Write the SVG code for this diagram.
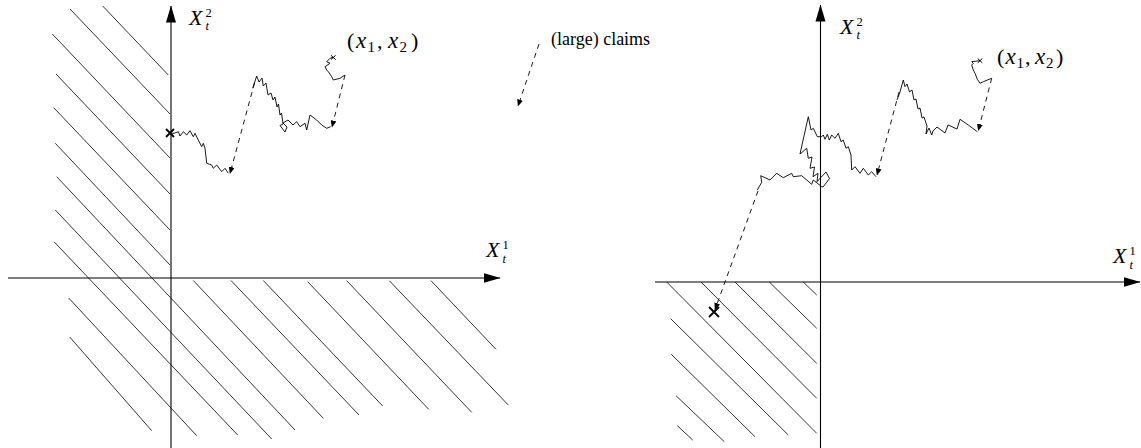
<svg xmlns="http://www.w3.org/2000/svg" width="1141" height="448" viewBox="0 0 1141 448">
<defs>
<marker id="ax" markerUnits="userSpaceOnUse" markerWidth="17" markerHeight="11" viewBox="0 0 17 11" refX="16.5" refY="5.5" orient="auto">
<path d="M0,0.5 L17,5.5 L0,10.5 Z" fill="#000"/>
</marker>
<marker id="cl" markerUnits="userSpaceOnUse" markerWidth="7" markerHeight="6" viewBox="0 0 7 6" refX="6.5" refY="3" orient="auto">
<path d="M0,0 L7,3 L0,6 Z" fill="#000"/>
</marker>
</defs>
<style>
.axis{stroke:#000;stroke-width:1.1;fill:none}
.hatch line{stroke:#000;stroke-width:0.8}
.walk{stroke:#000;stroke-width:0.9;fill:none;stroke-linejoin:miter}
.claim{stroke:#000;stroke-width:0.9;fill:none;stroke-dasharray:5 4.5}
.ruin{stroke:#000;stroke-width:1.8}
.start{stroke:#000;stroke-width:1}
.m{font-family:"Liberation Serif","DejaVu Serif",serif;fill:#000}
.it{font-style:italic}
.big{font-size:22px;font-style:italic}
.xv{font-size:23px;font-style:italic}
.sc{font-size:12.5px}
.pt{font-size:22px}
.sb{font-size:15px}
</style>
<rect width="1141" height="448" fill="#fff"/>

<g id="left-hatch" class="hatch">
<line x1="102.7" y1="6" x2="168.3" y2="75"/>
<line x1="70" y1="9" x2="170" y2="114"/>
<line x1="52.3" y1="34" x2="170" y2="158"/>
<line x1="56" y1="74" x2="170" y2="194"/>
<line x1="53.7" y1="107.7" x2="170" y2="230"/>
<line x1="55.3" y1="143.3" x2="170" y2="265"/>
<line x1="56.7" y1="176.7" x2="295" y2="430"/>
<line x1="55.3" y1="210" x2="271.7" y2="439"/>
<line x1="54.3" y1="242" x2="237.7" y2="435"/>
<line x1="68.7" y1="298" x2="196.7" y2="435.7"/>
<line x1="69.7" y1="337" x2="151.7" y2="430.7"/>
<line x1="193.3" y1="280.5" x2="323.3" y2="418.3"/>
<line x1="231" y1="280.5" x2="359" y2="415"/>
<line x1="263.3" y1="280.5" x2="382.7" y2="406"/>
<line x1="307.7" y1="281.7" x2="428.7" y2="409.3"/>
<line x1="346.7" y1="280.7" x2="471.7" y2="412.3"/>
<line x1="389.3" y1="280.7" x2="508.3" y2="405"/>
<line x1="431" y1="280.7" x2="496" y2="349.3"/>
</g>

<g id="right-hatch" class="hatch">
<line x1="666.7" y1="282" x2="816.7" y2="433.3"/>
<line x1="701" y1="282" x2="816.7" y2="398.3"/>
<line x1="735" y1="282" x2="816.7" y2="363.3"/>
<line x1="769.3" y1="282" x2="816.7" y2="328.3"/>
<line x1="803.3" y1="282" x2="816.7" y2="295"/>
<line x1="670.7" y1="318.7" x2="788.3" y2="435"/>
<line x1="671.3" y1="354.3" x2="755" y2="436.7"/>
<line x1="676" y1="395.7" x2="724.3" y2="441.7"/>
<line x1="677.3" y1="425.7" x2="692.7" y2="440"/>
</g>

<g id="left-axes">
<line class="axis" x1="171" y1="448" x2="171" y2="6" marker-end="url(#ax)"/>
<line class="axis" x1="8" y1="278" x2="500" y2="278" marker-end="url(#ax)"/>
</g>
<g id="right-axes">
<line class="axis" x1="820.5" y1="448" x2="820.5" y2="5" marker-end="url(#ax)"/>
<line class="axis" x1="655" y1="282" x2="1140" y2="282" marker-end="url(#ax)"/>
</g>

<g id="connectors">
<polyline class="walk" points="170,133 174,133.3 178.3,131.7 180,136 183.3,131.7 186.7,135 190,130.7 193.3,136.7 195,133.3 198.3,140 201.7,146.7 203.3,143.3 205,148.3 206.7,163.3 211.7,165 213.3,168.3 216.7,165 221.7,171.7 225,168.3 228.3,173.3"/>
<line class="claim" x1="254.5" y1="83" x2="230" y2="173.5" marker-end="url(#cl)"/>
<polyline class="walk" points="252.7,88.3 256.7,76 259,82 262,78 263.3,86 266,83 268,95 271,93 273,100 275,97 277,107 278.5,104 280,115 281.5,113 283,124 280,125.5 285,132 287,127 283,123 288,120 293,125 296.7,121.7 300,126.7 305,123.3 306.7,130 310,115 316.7,120 321.7,125 326.7,128.3 330.7,126.7"/>
<line class="claim" x1="345" y1="75" x2="332" y2="127" marker-end="url(#cl)"/>
<polyline class="walk" points="345,75 340,78.3 333.3,80 331.7,76.7 328.3,71.7 326.7,70 325,66.7 330,63.3 326.7,61.7 330,58.3 333.3,57.3"/>
<line class="claim" x1="539" y1="44" x2="518" y2="106" marker-end="url(#cl)"/>
<polyline class="walk" points="980,60.7 971.7,61.7 973.3,63.3 971.7,65 973.3,70 975,73.3 977.3,79.3 980,83.3 983.3,81.7 991.7,78.3"/>
<line class="claim" x1="991.7" y1="78.3" x2="978.3" y2="130.5" marker-end="url(#cl)"/>
<polyline class="walk" points="977.3,131.7 968.3,125 960,119.3 957,129 948,125 945,133 937,127 933,131 931.7,135 929,128 926,134 927,126 924,117 922,118 920,108 918,109 916,99 914,100 912,90 909.5,92 907,84 905,86.7 903.3,80 900,92 897,100"/>
<line class="claim" x1="899" y1="92" x2="877" y2="175" marker-end="url(#cl)"/>
<polyline class="walk" points="876,176.7 871.7,171.7 868.3,175 863.3,168.3 860,173.3 855,166.7 851.7,170 851,155 848.3,146.7 846,148.3 843.3,140 841,141.7 838.3,133.3 835,138.3 831.7,135 829.3,140 827.3,134.3 825,139.3 823.3,135 821.7,136.7 817.3,136.7 813.3,128.3 811,130 808.3,116.7 800,154 806.7,148.3 808.3,158.3 812,157 810,168.3 814.5,167 813,176.7 818,173.3 817,181.7 826,172 829.5,178.5 823,187 821.7,186.7 813.3,180 811.7,184.3 801.7,175.7 793.3,176.7 791.7,173.3 783.3,177.7 776.7,173.3 770,180 760.7,175.7 761.7,182.3 757.3,190"/>
<line class="claim" x1="758" y1="191" x2="715" y2="309.5" marker-end="url(#cl)"/>
</g>

<g id="marks">
<path class="ruin" d="M166,129 L174,137 M174,129 L166,137"/>
<path class="ruin" d="M709,307 L719,317 M719,307 L709,317"/>
<path class="start" d="M331,55.3 L335.6,59.6 M335.6,55.3 L331,59.6"/>
<path class="start" d="M977.7,58.5 L982.3,62.9 M982.3,58.5 L977.7,62.9"/>
</g>

<g id="labels">
<text class="m big" x="189" y="24.5">X</text>
<text class="m sc" x="205.5" y="16.5">2</text>
<text class="m sc it" x="205.5" y="30">t</text>

<text class="m big" x="486" y="257">X</text>
<text class="m sc" x="502.5" y="249">1</text>
<text class="m sc it" x="502.5" y="262.5">t</text>

<text class="m big" x="840" y="33.5">X</text>
<text class="m sc" x="856.5" y="25.5">2</text>
<text class="m sc it" x="856.5" y="39">t</text>

<text class="m big" x="1113" y="263">X</text>
<text class="m sc" x="1129.5" y="255">1</text>
<text class="m sc it" x="1129.5" y="268.5">t</text>

<text class="m pt" x="347" y="47.5">(</text>
<text class="m xv" x="356" y="47.5">x</text>
<text class="m sb" x="367.5" y="51.5">1</text>
<text class="m pt" x="377" y="47.5">,</text>
<text class="m xv" x="388" y="47.5">x</text>
<text class="m sb" x="399.5" y="51.5">2</text>
<text class="m pt" x="411" y="47.5">)</text>

<text class="m pt" x="997" y="64">(</text>
<text class="m xv" x="1005.5" y="64">x</text>
<text class="m sb" x="1016.5" y="68">1</text>
<text class="m pt" x="1025" y="64">,</text>
<text class="m xv" x="1035" y="64">x</text>
<text class="m sb" x="1046" y="68">2</text>
<text class="m pt" x="1056" y="64">)</text>

<text class="m" x="551" y="45" font-size="18">(large) claims</text>
</g>
</svg>
